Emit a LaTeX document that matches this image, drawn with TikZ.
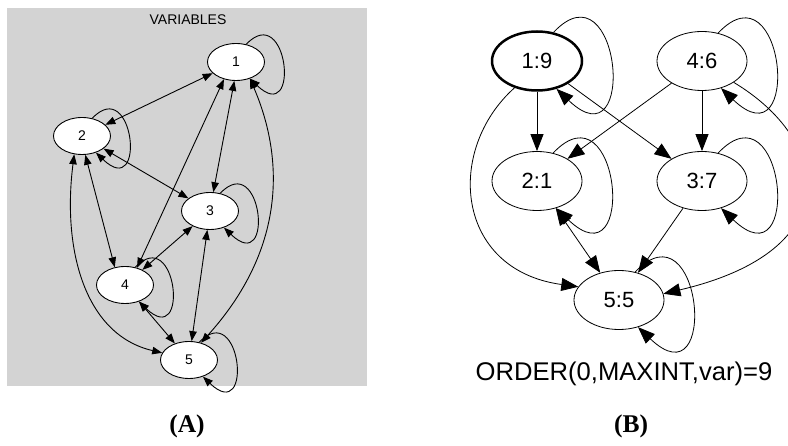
\documentclass[tikz,border=0pt]{standalone}
\usepackage{fontspec}
\setmainfont{Liberation Sans}
\newfontfamily\tagfont{Liberation Serif}
\usetikzlibrary{shapes.geometric,arrows.meta}

\definecolor{panelgray}{RGB}{211,211,211}

\tikzset{
  atip/.tip={Triangle[length=10pt,width=7.5pt]},
  btip/.tip={Triangle[length=17pt,width=13pt]},
  avar/.style={ellipse,draw,fill=white,line width=0.9pt,minimum width=57pt,minimum height=37pt,inner sep=0pt,font=\fontsize{14}{16}\selectfont},
  bvar/.style={ellipse,draw,line width=0.8pt,minimum width=90pt,minimum height=59pt,inner sep=0pt,font=\fontsize{22}{26}\selectfont},
  alink/.style={line width=0.9pt},
  blink/.style={line width=0.8pt},
  tag/.style={font=\tagfont\bfseries\fontsize{25.5}{30}\selectfont}
}

\begin{document}
\begin{tikzpicture}[x=1pt,y=1pt]
	\useasboundingbox (0,0) rectangle (788,-446);

	% Variables
	\fill[panelgray] (7,-8) rectangle (367,-386);
	\node[black,font=\fontsize{14}{16}\selectfont] (vartitle) at (188,-20) {VARIABLES};
	\node[avar] (a1) at (236,-62) {1};
	\node[avar] (a2) at (82,-136) {2};
	\node[avar] (a3) at (210,-211) {3};
	\node[avar] (a4) at (125,-285) {4};
	\node[avar] (a5) at (189,-360) {5};

	%link
	\draw[alink,{atip}-{atip}] (a1) -- (a2);
	\draw[alink,{atip}-{atip}] (a1.-125) -- (a4.55);
	\draw[alink,{atip}-{atip}] (a1.-95) -- (a3.80);
	\draw[alink,{atip}-{atip}] (a1.-50) .. controls (285,-160) and (285,-250) .. (a5.55);
	\draw[alink,{atip}-{atip}] (a2) -- (a3);
	\draw[alink,{atip}-{atip}] (a2.-80) -- (a4.120);
	\draw[alink,{atip}-{atip}] (a2.-113) .. controls (62,-250) and (85,-335) .. (a5.165);
	\draw[alink,{atip}-{atip}] (a3) -- (a4);
	\draw[alink,{atip}-{atip}] (a3) -- (a5);
	\draw[alink,{atip}-{atip}] (a4) -- (a5);
	\foreach \v in {a1,a2,a3,a4,a5}
		\draw[alink,-{atip}] (\v.60) .. controls +(42,44) and +(51,-49) .. (\v.-50);

	% Order
	\node[bvar,line width=2.5pt] (b1) at (537,-61) {1:9};
	\node[bvar] (b4) at (702,-61) {4:6};
	\node[bvar] (b2) at (537,-181) {2:1};
	\node[bvar] (b3) at (702,-181) {3:7};
	\node[bvar] (b5) at (619,-300) {5:5};
	\node[black,font=\fontsize{25.6}{30}\selectfont] (order) at (624,-374) {ORDER(0,MAXINT,var)=9};

	%link
	\draw[blink,-{btip}] (b1) -- (b2);
	\draw[blink,-{btip}] (b1) -- (b3);
	\draw[blink,-{btip}] (b1.-130) .. controls (445,-150) and (455,-270) .. (b5.162);
	\draw[blink,-{btip}] (b4) -- (b2);
	\draw[blink,-{btip}] (b4) -- (b3);
	\draw[blink,-{btip}] (b4.-34) .. controls (830,-140) and (850,-250) .. (b5.8);
	\draw[blink,{btip}-{btip}] (b2) -- (b5);
	\draw[blink,-{btip}] (b3) -- (b5);
	\foreach \v in {b1,b2,b3,b4,b5}
		\draw[blink,-{btip}] (\v.60) .. controls +(67,71) and +(82,-78) .. (\v.-55);

	%Label
	\node[tag] (taga) at (187,-426) {(A)};
	\node[tag] (tagb) at (631,-426) {(B)};

\end{tikzpicture}
\end{document}
